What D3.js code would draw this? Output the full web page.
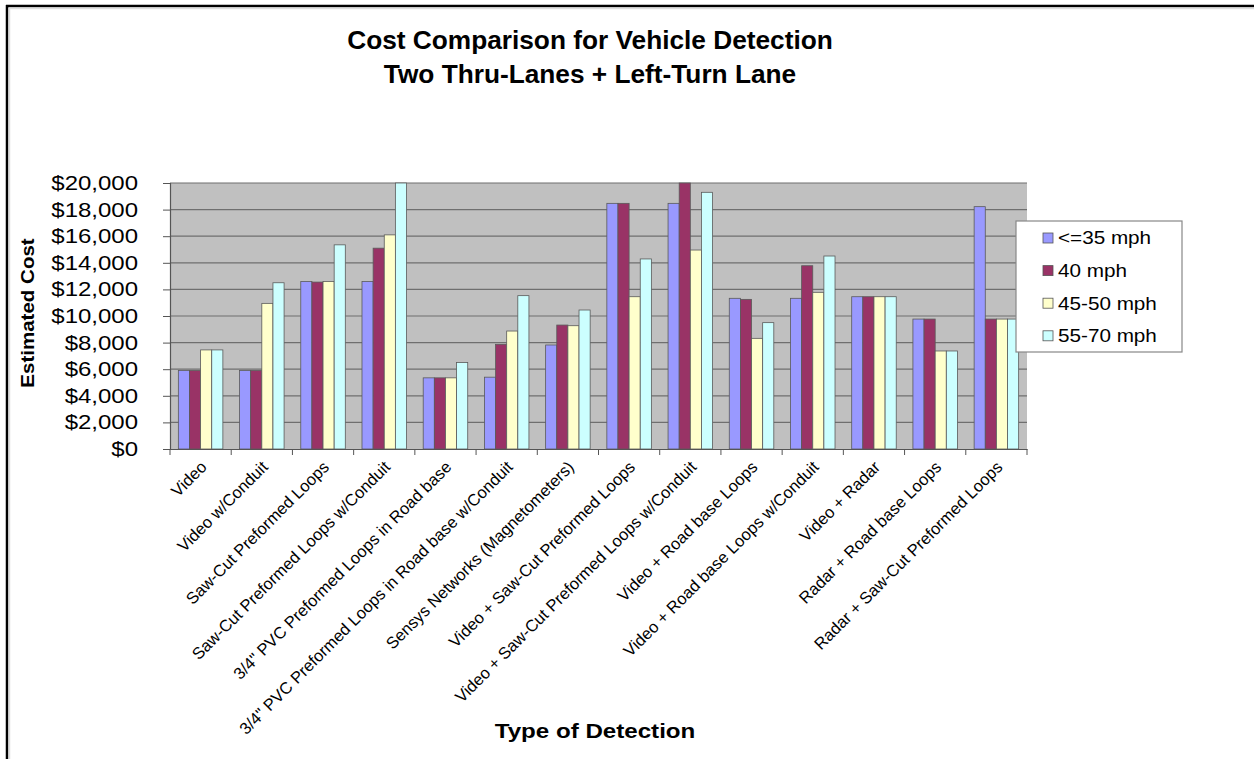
<!DOCTYPE html>
<html>
<head>
<meta charset="utf-8">
<script src="https://cdn.jsdelivr.net/npm/d3@7"></script>
<style>
  body { margin: 0; background: #fff; }
  text { font-family: "Liberation Sans", Arial, sans-serif; }
</style>
</head>
<body>
<div id="chart"></div>
<script>
// data
var categories = [
  "Video", "Video w/Conduit", "Saw-Cut Preformed Loops",
  "Saw-Cut Preformed Loops w/Conduit", "3/4\" PVC Preformed Loops in Road base",
  "3/4\" PVC Preformed Loops in Road base w/Conduit", "Sensys Networks (Magnetometers)",
  "Video + Saw-Cut Preformed Loops", "Video + Saw-Cut Preformed Loops w/Conduit",
  "Video + Road base Loops", "Video + Road base Loops w/Conduit", "Video + Radar",
  "Radar + Road base Loops", "Radar + Saw-Cut Preformed Loops"
];
var seriesNames = ["<=35 mph", "40 mph", "45-50 mph", "55-70 mph"];
var le35 =  [5900, 5900, 12600, 12600, 5350, 5400, 7820, 18470, 18470, 11330, 11330, 11450, 9770, 18220];
var mph40 = [5900, 5900, 12550, 15100, 5350, 7870, 9320, 18470, 20000, 11250, 13780, 11450, 9770, 9770];
var mph45 = [7450, 10950, 12600, 16100, 5350, 8870, 9270, 11450, 14960, 8320, 11780, 11450, 7370, 9770];
var mph55 = [7450, 12500, 15350, 20000, 6500, 11530, 10450, 14290, 19300, 9500, 14510, 11450, 7370, 9770];
var yTicks = [0, 2000, 4000, 6000, 8000, 10000, 12000, 14000, 16000, 18000, 20000];
var colors = ["#9999FF", "#993366", "#FFFFCC", "#CCFFFF"];

var series = [le35, mph40, mph45, mph55];

var W = 1254, H = 759;
var margin = {top: 183, left: 170, right: 227, bottom: 310};
var width = W - margin.left - margin.right;
var height = H - margin.top - margin.bottom;
var stretch = 1.15; // text in the picture is a little wider than tall

var svg = d3.select("#chart").append("svg")
  .attr("width", W).attr("height", H);

// frame
svg.append("line").attr("x1", 7).attr("x2", 7).attr("y1", 5).attr("y2", H).attr("stroke", "#000").attr("stroke-width", 2.5);
svg.append("line").attr("x1", 6).attr("x2", W).attr("y1", 6).attr("y2", 6).attr("stroke", "#000").attr("stroke-width", 2.5);
svg.append("line").attr("x1", 9.5).attr("x2", 9.5).attr("y1", 8).attr("y2", H).attr("stroke", "#ddd").attr("stroke-width", 1.5);
svg.append("line").attr("x1", 9).attr("x2", W).attr("y1", 8.5).attr("y2", 8.5).attr("stroke", "#ddd").attr("stroke-width", 1.5);

// title
svg.append("text").attr("transform", "translate(590,49) scale(1.05,1)").attr("text-anchor", "middle")
  .style("font-size", "25px").style("font-weight", "bold").text("Cost Comparison for Vehicle Detection");
svg.append("text").attr("transform", "translate(590,83) scale(1.05,1)").attr("text-anchor", "middle")
  .style("font-size", "25px").style("font-weight", "bold").text("Two Thru-Lanes + Left-Turn Lane");

var g = svg.append("g").attr("transform", "translate(" + margin.left + "," + margin.top + ")");

var x0 = d3.scaleBand().domain(d3.range(categories.length)).range([0, width]).paddingInner(0).paddingOuter(0);
var x1 = d3.scaleBand().domain(d3.range(4)).range([x0.bandwidth() * 0.75 / 5.5, x0.bandwidth() * (1 - 0.75 / 5.5)]);
var y = d3.scaleLinear().domain([0, 20000]).range([height, 0]);

// plot area
g.append("rect").attr("width", width).attr("height", height).attr("fill", "#C0C0C0");

// grid lines
g.append("g").selectAll("line").data(yTicks.slice(1)).enter().append("line")
  .attr("x1", 0).attr("x2", width)
  .attr("y1", function (d) { return y(d); }).attr("y2", function (d) { return y(d); })
  .attr("stroke", "#6f6f6f").attr("stroke-width", 1.2);

// bars
var groups = g.append("g").selectAll("g").data(categories).enter().append("g")
  .attr("transform", function (d, i) { return "translate(" + x0(i) + ",0)"; });

groups.selectAll("rect").data(function (d, i) { return series.map(function (s, k) { return {k: k, v: s[i]}; }); })
  .enter().append("rect")
  .attr("x", function (d) { return x1(d.k); })
  .attr("width", x1.bandwidth())
  .attr("y", function (d) { return y(Math.min(d.v, 20000)); })
  .attr("height", function (d) { return height - y(Math.min(d.v, 20000)); })
  .attr("fill", function (d) { return colors[d.k]; })
  .attr("stroke", "#5a5a5a").attr("stroke-width", 0.8);

// y axis
var yAxis = g.append("g")
  .call(d3.axisLeft(y).tickValues(yTicks).tickSize(7).tickFormat(function (d) { return "$" + d3.format(",")(d); }));
yAxis.select(".domain").attr("stroke", "#555").attr("stroke-width", 1.2);
yAxis.selectAll(".tick line").attr("stroke", "#555");
yAxis.selectAll("text").style("font-size", "20px").attr("fill", "#000")
  .attr("x", -32 / 1.2).attr("transform", "scale(1.2,1)");

// x axis
var xAxis = g.append("g").attr("transform", "translate(0," + height + ")")
  .call(d3.axisBottom(x0).tickSize(0).tickFormat(function (d) { return categories[d]; }));
xAxis.select(".domain").attr("stroke", "#555").attr("stroke-width", 1.2);
xAxis.selectAll(".tick text")
  .style("font-size", "16.5px").attr("fill", "#000")
  .attr("text-anchor", "end")
  .attr("transform", "translate(3,15) rotate(-45)")
  .attr("y", 0).attr("dy", "0.35em");
// category separators
g.append("g").attr("transform", "translate(0," + height + ")")
  .selectAll("line").data(d3.range(categories.length + 1)).enter().append("line")
  .attr("x1", function (d) { return d * x0.bandwidth(); }).attr("x2", function (d) { return d * x0.bandwidth(); })
  .attr("y1", 0).attr("y2", 6).attr("stroke", "#555");

// axis titles
svg.append("text").attr("transform", "translate(34," + (margin.top + height / 2 - 3) + ") rotate(-90) scale(1.08,1)")
  .attr("text-anchor", "middle").style("font-size", "19px").style("font-weight", "bold").text("Estimated Cost");
svg.append("text").attr("transform", "translate(595,738) scale(" + stretch + ",1)").attr("text-anchor", "middle")
  .style("font-size", "21px").style("font-weight", "bold").text("Type of Detection");

// legend
var lg = svg.append("g").attr("transform", "translate(1016,221)");
lg.append("rect").attr("width", 166).attr("height", 131).attr("fill", "#fff").attr("stroke", "#888").attr("stroke-width", 1.2);
var items = lg.selectAll("g.item").data(seriesNames).enter().append("g").attr("class", "item")
  .attr("transform", function (d, i) { return "translate(27," + (17 + i * 32.6) + ")"; });
items.append("rect").attr("width", 10).attr("height", 10).attr("y", -5)
  .attr("fill", function (d, i) { return colors[i]; }).attr("stroke", "#555").attr("stroke-width", 0.8);
items.append("text").attr("transform", "translate(15,0) scale(" + stretch + ",1)").attr("dy", "0.36em")
  .style("font-size", "18px").text(function (d) { return d; });
</script>
</body>
</html>
